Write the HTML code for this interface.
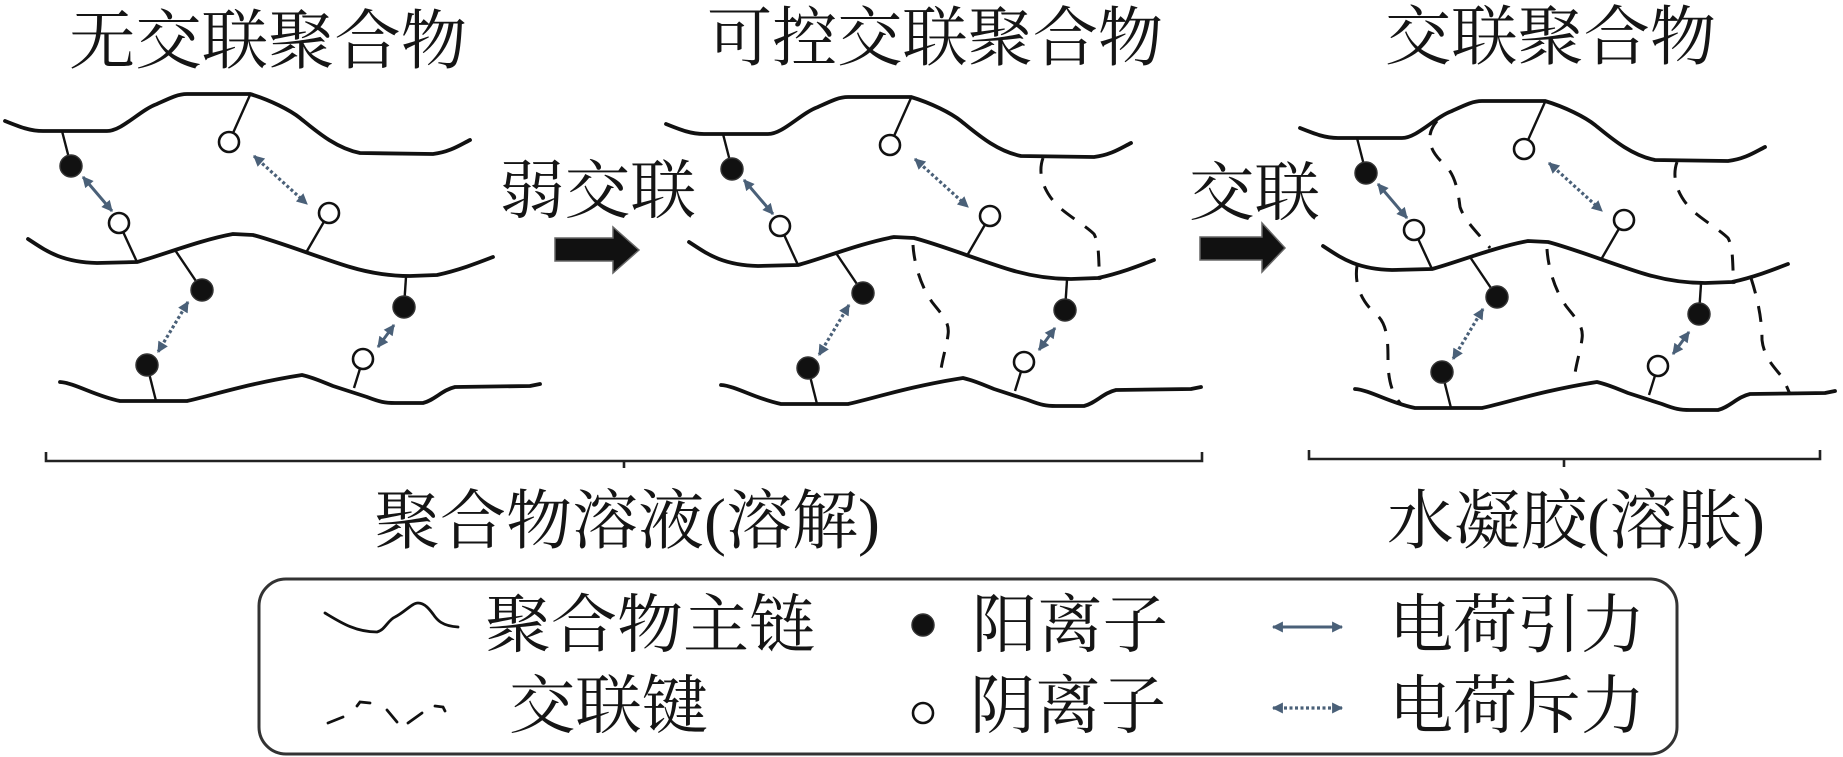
<!DOCTYPE html>
<html><head><meta charset="utf-8"><style>
html,body{margin:0;padding:0;background:#fff;}
svg{display:block;}
text{font-family:"Liberation Serif","Noto Serif CJK SC",serif;fill:#151515;}
</style></head><body>
<svg width="1843" height="757" viewBox="0 0 1843 757" xmlns="http://www.w3.org/2000/svg">
<defs>
<marker id="ah" viewBox="0 0 10 10" refX="9" refY="5" markerWidth="12" markerHeight="11" markerUnits="userSpaceOnUse" orient="auto-start-reverse">
<path d="M0,0 L10,5 L0,10 z" fill="#4a6078"/>
</marker>
</defs>
<rect width="1843" height="757" fill="#fff"/>

<!-- Titles -->
<text x="69" y="63" font-size="65" textLength="398" lengthAdjust="spacingAndGlyphs">无交联聚合物</text>
<text x="707" y="60" font-size="65" textLength="456" lengthAdjust="spacingAndGlyphs">可控交联聚合物</text>
<text x="1385" y="59" font-size="65" textLength="331" lengthAdjust="spacingAndGlyphs">交联聚合物</text>

<text x="499" y="213" font-size="64" textLength="197" lengthAdjust="spacingAndGlyphs">弱交联</text>
<text x="1189" y="215" font-size="64" textLength="131" lengthAdjust="spacingAndGlyphs">交联</text>

<!-- Big arrows -->
<polygon points="555,238 613,238 613,227 639,250 613,273 613,261 555,261" fill="#111" stroke="#666" stroke-width="1.5"/>
<polygon points="1200,237 1262,237 1262,223 1285,248 1262,272 1262,260 1200,260" fill="#111" stroke="#666" stroke-width="1.5"/>

<!-- Panel 1 -->
<g>
<g fill="none" stroke="#111" stroke-width="3.8" stroke-linecap="round" stroke-linejoin="round">
<path d="M5,121 C20,127 30,131 43,131 L107,131 C122,131 140,110 157,104 C170,98 178,94 187,94 L250,94 C270,100 290,110 300,118 C315,130 335,148 360,153 L433,154 C450,152 460,145 470,140"/>
<path d="M28,239 C45,250 60,262 97,263 L137,262 C160,256 200,240 233,234 L253,235 C280,242 320,258 350,267 C370,273 390,276 410,276 L437,275 C460,270 480,262 493,257"/>
<path d="M60,382 C75,383 95,396 120,401 L187,401 C210,396 250,383 302,375 C315,378 325,383 333,386 L367,397 C380,402 385,403 395,403 L423,403 C435,400 442,390 455,387 L530,386 L540,384"/>
</g>
<g stroke="#111" stroke-width="2.4">
<line x1="62" y1="131" x2="71" y2="166"/>
<line x1="250" y1="95" x2="229" y2="142"/>
<line x1="137" y1="262" x2="119" y2="223"/>
<line x1="307" y1="251" x2="329" y2="213"/>
<line x1="175" y1="250" x2="202" y2="290"/>
<line x1="156" y1="401" x2="147" y2="365"/>
<line x1="406" y1="277" x2="404" y2="307"/>
<line x1="354" y1="388" x2="363" y2="359"/>
</g>
<g fill="#111" stroke="#333" stroke-width="1.5">
<circle cx="71" cy="166" r="11"/>
<circle cx="202" cy="290" r="11"/>
<circle cx="147" cy="365" r="11"/>
<circle cx="404" cy="307" r="11"/>
</g>
<g fill="#fff" stroke="#111" stroke-width="2.6">
<circle cx="229" cy="142" r="10"/>
<circle cx="119" cy="223" r="10"/>
<circle cx="329" cy="213" r="10"/>
<circle cx="363" cy="359" r="10"/>
</g>
<g stroke="#4a6078" stroke-width="3" fill="none" marker-start="url(#ah)" marker-end="url(#ah)">
<line x1="83" y1="177" x2="112" y2="211"/>
<line x1="394" y1="325" x2="378" y2="347"/>
</g>
<g stroke="#4a6078" stroke-width="3.2" fill="none" stroke-dasharray="3 2.5" marker-start="url(#ah)" marker-end="url(#ah)">
<line x1="254" y1="156" x2="307" y2="204"/>
<line x1="188" y1="302" x2="158" y2="352"/>
</g>
</g>

<!-- Panel 2 -->
<g transform="translate(661,3)">
<g fill="none" stroke="#111" stroke-width="3.8" stroke-linecap="round" stroke-linejoin="round">
<path d="M5,121 C20,127 30,131 43,131 L107,131 C122,131 140,110 157,104 C170,98 178,94 187,94 L250,94 C270,100 290,110 300,118 C315,130 335,148 360,153 L433,154 C450,152 460,145 470,140"/>
<path d="M28,239 C45,250 60,262 97,263 L137,262 C160,256 200,240 233,234 L253,235 C280,242 320,258 350,267 C370,273 390,276 410,276 L437,275 C460,270 480,262 493,257"/>
<path d="M60,382 C75,383 95,396 120,401 L187,401 C210,396 250,383 302,375 C315,378 325,383 333,386 L367,397 C380,402 385,403 395,403 L423,403 C435,400 442,390 455,387 L530,386 L540,384"/>
</g>
<g stroke="#111" stroke-width="2.4">
<line x1="62" y1="131" x2="71" y2="166"/>
<line x1="250" y1="95" x2="229" y2="142"/>
<line x1="137" y1="262" x2="119" y2="223"/>
<line x1="307" y1="251" x2="329" y2="213"/>
<line x1="175" y1="250" x2="202" y2="290"/>
<line x1="156" y1="401" x2="147" y2="365"/>
<line x1="406" y1="277" x2="404" y2="307"/>
<line x1="354" y1="388" x2="363" y2="359"/>
</g>
<g fill="#111" stroke="#333" stroke-width="1.5">
<circle cx="71" cy="166" r="11"/>
<circle cx="202" cy="290" r="11"/>
<circle cx="147" cy="365" r="11"/>
<circle cx="404" cy="307" r="11"/>
</g>
<g fill="#fff" stroke="#111" stroke-width="2.6">
<circle cx="229" cy="142" r="10"/>
<circle cx="119" cy="223" r="10"/>
<circle cx="329" cy="213" r="10"/>
<circle cx="363" cy="359" r="10"/>
</g>
<g stroke="#4a6078" stroke-width="3" fill="none" marker-start="url(#ah)" marker-end="url(#ah)">
<line x1="83" y1="177" x2="112" y2="211"/>
<line x1="394" y1="325" x2="378" y2="347"/>
</g>
<g stroke="#4a6078" stroke-width="3.2" fill="none" stroke-dasharray="3 2.5" marker-start="url(#ah)" marker-end="url(#ah)">
<line x1="254" y1="156" x2="307" y2="204"/>
<line x1="188" y1="302" x2="158" y2="352"/>
</g>
</g>

<!-- Panel 3 -->
<g transform="translate(1295,7)">
<g fill="none" stroke="#111" stroke-width="3.8" stroke-linecap="round" stroke-linejoin="round">
<path d="M5,121 C20,127 30,131 43,131 L107,131 C122,131 140,110 157,104 C170,98 178,94 187,94 L250,94 C270,100 290,110 300,118 C315,130 335,148 360,153 L433,154 C450,152 460,145 470,140"/>
<path d="M28,239 C45,250 60,262 97,263 L137,262 C160,256 200,240 233,234 L253,235 C280,242 320,258 350,267 C370,273 390,276 410,276 L437,275 C460,270 480,262 493,257"/>
<path d="M60,382 C75,383 95,396 120,401 L187,401 C210,396 250,383 302,375 C315,378 325,383 333,386 L367,397 C380,402 385,403 395,403 L423,403 C435,400 442,390 455,387 L530,386 L540,384"/>
</g>
<g stroke="#111" stroke-width="2.4">
<line x1="62" y1="131" x2="71" y2="166"/>
<line x1="250" y1="95" x2="229" y2="142"/>
<line x1="137" y1="262" x2="119" y2="223"/>
<line x1="307" y1="251" x2="329" y2="213"/>
<line x1="175" y1="250" x2="202" y2="290"/>
<line x1="156" y1="401" x2="147" y2="365"/>
<line x1="406" y1="277" x2="404" y2="307"/>
<line x1="354" y1="388" x2="363" y2="359"/>
</g>
<g fill="#111" stroke="#333" stroke-width="1.5">
<circle cx="71" cy="166" r="11"/>
<circle cx="202" cy="290" r="11"/>
<circle cx="147" cy="365" r="11"/>
<circle cx="404" cy="307" r="11"/>
</g>
<g fill="#fff" stroke="#111" stroke-width="2.6">
<circle cx="229" cy="142" r="10"/>
<circle cx="119" cy="223" r="10"/>
<circle cx="329" cy="213" r="10"/>
<circle cx="363" cy="359" r="10"/>
</g>
<g stroke="#4a6078" stroke-width="3" fill="none" marker-start="url(#ah)" marker-end="url(#ah)">
<line x1="83" y1="177" x2="112" y2="211"/>
<line x1="394" y1="325" x2="378" y2="347"/>
</g>
<g stroke="#4a6078" stroke-width="3.2" fill="none" stroke-dasharray="3 2.5" marker-start="url(#ah)" marker-end="url(#ah)">
<line x1="254" y1="156" x2="307" y2="204"/>
<line x1="188" y1="302" x2="158" y2="352"/>
</g>
</g>

<!-- Dashed crosslinks -->
<g fill="none" stroke="#111" stroke-width="3" stroke-dasharray="16 13">
<path d="M1043,158 C1038,172 1042,188 1055,203 C1065,214 1085,225 1094,234 C1100,245 1098,262 1100,280"/>
<path d="M913,245 C914,262 920,285 932,302 C942,315 950,322 948,335 C946,350 940,365 940,382"/>
<path d="M1437,121 C1425,135 1428,150 1445,165 C1455,175 1458,190 1460,207 C1465,222 1480,235 1490,248"/>
<path d="M1677,162 C1672,176 1676,192 1689,207 C1699,218 1719,229 1728,238 C1734,249 1732,266 1734,284"/>
<path d="M1357,266 C1354,285 1362,303 1378,316 C1388,326 1388,345 1388,360 C1388,380 1392,395 1402,405"/>
<path d="M1547,249 C1548,266 1554,289 1566,306 C1576,319 1584,326 1582,339 C1580,354 1574,369 1574,386"/>
<path d="M1751,278 C1758,300 1762,320 1762,340 C1764,358 1775,368 1782,377 C1786,384 1788,390 1790,394"/>
</g>

<!-- Brackets -->
<g fill="none" stroke="#222" stroke-width="2.6">
<path d="M46,452 L46,461 L1202,461 L1202,452"/>
<line x1="624" y1="461" x2="624" y2="468"/>
<path d="M1309,450 L1309,459 L1820,459 L1820,450"/>
<line x1="1564" y1="459" x2="1564" y2="467"/>
</g>

<text x="374" y="543" font-size="65" textLength="506" lengthAdjust="spacingAndGlyphs">聚合物溶液(溶解)</text>
<text x="1387" y="543" font-size="65" textLength="378" lengthAdjust="spacingAndGlyphs">水凝胶(溶胀)</text>

<!-- Legend -->
<rect x="259" y="579" width="1418" height="175" rx="27" ry="27" fill="none" stroke="#333" stroke-width="3"/>
<path d="M325,613 C340,622 355,632 377,632 C385,630 388,620 395,617 C405,612 412,603 418,603 C425,603 430,610 433,614 C437,620 442,626 458,627" fill="none" stroke="#111" stroke-width="2.8" stroke-linecap="round"/>
<g stroke="#111" stroke-width="2.8" stroke-linecap="round" fill="none">
<line x1="328" y1="723" x2="343" y2="717"/>
<path d="M357,706 L360,702 L370,703"/>
<line x1="387" y1="710" x2="397" y2="722"/>
<line x1="408" y1="723" x2="422" y2="713"/>
<path d="M435,706 L443,707 L445,711"/>
</g>
<text x="485" y="647" font-size="64" textLength="330" lengthAdjust="spacingAndGlyphs">聚合物主链</text>
<text x="509" y="728" font-size="64" textLength="199" lengthAdjust="spacingAndGlyphs">交联键</text>

<circle cx="923" cy="625" r="11" fill="#111" stroke="#333" stroke-width="1.5"/>
<circle cx="923" cy="713" r="10" fill="#fff" stroke="#111" stroke-width="2.6"/>
<text x="972" y="647" font-size="64" textLength="196" lengthAdjust="spacingAndGlyphs">阳离子</text>
<text x="970" y="728" font-size="64" textLength="196" lengthAdjust="spacingAndGlyphs">阴离子</text>

<line x1="1273" y1="627" x2="1342" y2="627" stroke="#4a6078" stroke-width="3" marker-start="url(#ah)" marker-end="url(#ah)"/>
<line x1="1273" y1="708" x2="1342" y2="708" stroke="#4a6078" stroke-width="3.2" stroke-dasharray="3 2.5" marker-start="url(#ah)" marker-end="url(#ah)"/>
<text x="1389" y="647" font-size="64" textLength="256" lengthAdjust="spacingAndGlyphs">电荷引力</text>
<text x="1389" y="728" font-size="64" textLength="256" lengthAdjust="spacingAndGlyphs">电荷斥力</text>
</svg>
</body></html>
